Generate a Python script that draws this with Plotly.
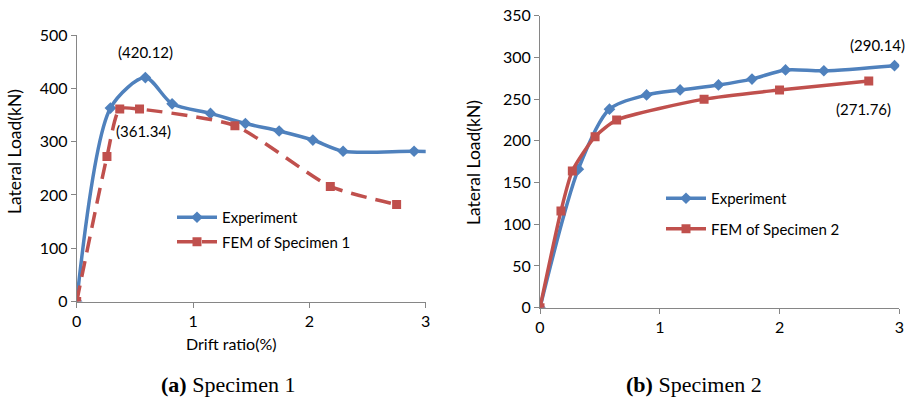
import plotly.graph_objects as go

# Specimen 1
exp1_x = [0, 0.29, 0.59, 0.82, 1.15, 1.45, 1.74, 2.03, 2.29, 2.90, 3.2]
exp1_y = [0, 363, 420.12, 371, 353, 334, 320, 303, 282, 282, 280]
fem1_x = [0, 0.26, 0.37, 0.54, 1.36, 2.18, 2.75]
fem1_y = [0, 272, 361.34, 361, 330, 216, 182]

# Specimen 2
exp2_x = [0, 0.32, 0.58, 0.89, 1.17, 1.49, 1.77, 2.05, 2.37, 2.96]
exp2_y = [0, 166, 238, 255, 261, 267, 274, 285, 284, 290.14]
fem2_x = [0, 0.175, 0.27, 0.46, 0.64, 1.37, 2.0, 2.745]
fem2_y = [0, 116, 164, 205, 225, 250, 261, 271.76]

x_ticks = [0, 1, 2, 3]
y1_ticks = [0, 100, 200, 300, 400, 500]
y2_ticks = [0, 50, 100, 150, 200, 250, 300, 350]

BLUE = "#4F81BD"
RED = "#C0504D"
FONT = "Lato"
W, H = 916, 397

fig = go.Figure()
fig.add_trace(go.Scatter(x=exp1_x, y=exp1_y, name="Experiment", mode="lines+markers",
                         line=dict(color=BLUE, width=3.5, shape="spline", smoothing=0.8),
                         marker=dict(symbol="diamond", size=9, color=BLUE),
                         xaxis="x", yaxis="y", legend="legend", legendgroup="e1"))
fig.add_trace(go.Scatter(x=fem1_x, y=fem1_y, name="FEM of Specimen 1", mode="lines+markers",
                         line=dict(color=RED, width=3.5, dash="16px,9px", shape="spline", smoothing=0.6),
                         marker=dict(symbol="square", size=9, color=RED),
                         xaxis="x", yaxis="y", legend="legend", legendgroup="f1"))
fig.add_trace(go.Scatter(x=exp2_x, y=exp2_y, name="Experiment", mode="lines+markers",
                         line=dict(color=BLUE, width=3.5, shape="spline", smoothing=0.8),
                         marker=dict(symbol="diamond", size=9, color=BLUE),
                         xaxis="x2", yaxis="y2", legend="legend2", legendgroup="e2"))
fig.add_trace(go.Scatter(x=fem2_x, y=fem2_y, name="FEM of Specimen 2", mode="lines+markers",
                         line=dict(color=RED, width=3.5, shape="spline", smoothing=0.6),
                         marker=dict(symbol="square", size=9, color=RED),
                         xaxis="x2", yaxis="y2", legend="legend2", legendgroup="f2"))

axis_common = dict(showgrid=False, zeroline=False, showline=True, linecolor="#868686",
                   linewidth=1, ticks="outside", ticklen=5, tickcolor="#868686",
                   automargin=False,
                   tickfont=dict(family=FONT, size=16, color="#000"))

x1d = [76.7 / W, 425.7 / W]
y1d = [1 - 301.6 / H, 1 - 35 / H]
x2d = [540 / W, 899.3 / W]
y2d = [1 - 307.7 / H, 1 - 15.7 / H]

fig.update_layout(
    width=W, height=H, margin=dict(l=0, r=0, t=0, b=0),
    paper_bgcolor="white", plot_bgcolor="white",
    font=dict(family=FONT, size=15, color="#000"),
    xaxis=dict(domain=x1d, range=[0, 3], tickvals=x_ticks, anchor="y", **axis_common),
    yaxis=dict(domain=y1d, range=[0, 500], tickvals=y1_ticks, anchor="x", **axis_common),
    xaxis2=dict(domain=x2d, range=[0, 3], tickvals=x_ticks, anchor="y2", **axis_common),
    yaxis2=dict(domain=y2d, range=[0, 350], tickvals=y2_ticks, anchor="x2", **axis_common),
    legend=dict(x=172 / W, y=1 - 201 / H, xanchor="left", yanchor="top",
                bgcolor="rgba(0,0,0,0)", font=dict(family=FONT, size=15), itemwidth=40,
                traceorder="grouped", tracegroupgap=2),
    legend2=dict(x=661 / W, y=1 - 182 / H, xanchor="left", yanchor="top",
                 bgcolor="rgba(0,0,0,0)", font=dict(family=FONT, size=15), itemwidth=40,
                 traceorder="grouped", tracegroupgap=8),
    showlegend=True,
)

ann = [
    dict(x=14 / W, y=1 - 152 / H, xref="paper", yref="paper", text="Lateral Load(kN)",
         xanchor="center", yanchor="middle",
         textangle=-90, showarrow=False, font=dict(family=FONT, size=17.5)),
    dict(x=473 / W, y=1 - 162 / H, xref="paper", yref="paper", text="Lateral Load(kN)",
         xanchor="center", yanchor="middle",
         textangle=-90, showarrow=False, font=dict(family=FONT, size=17.5)),
    dict(x=232 / W, y=1 - 343 / H, xref="paper", yref="paper", text="Drift ratio(%)",
         xanchor="center", yanchor="middle", showarrow=False,
         font=dict(family=FONT, size=16)),
    dict(x=0.59, y=420.12, xref="x", yref="y", text="(420.12)", showarrow=False,
         yshift=26, font=dict(family=FONT, size=15)),
    dict(x=0.37, y=361.34, xref="x", yref="y", text="(361.34)", showarrow=False,
         xanchor="left", xshift=-6, yshift=-22, font=dict(family=FONT, size=15)),
    dict(x=2.96, y=290.14, xref="x2", yref="y2", text="(290.14)", showarrow=False,
         xshift=-17, yshift=21, font=dict(family=FONT, size=15)),
    dict(x=2.745, y=271.76, xref="x2", yref="y2", text="(271.76)", showarrow=False,
         xshift=-5, yshift=-28, font=dict(family=FONT, size=15)),
    dict(x=228 / W, y=1 - 384 / H, xref="paper", yref="paper", showarrow=False,
         xanchor="center", yanchor="middle",
         text="<b>(a)</b> Specimen 1", font=dict(family="Liberation Serif", size=22)),
    dict(x=694 / W, y=1 - 384 / H, xref="paper", yref="paper", showarrow=False,
         xanchor="center", yanchor="middle",
         text="<b>(b)</b> Specimen 2", font=dict(family="Liberation Serif", size=22)),
]
fig.update_layout(annotations=ann)

fig.write_html("out.html", config={"displayModeBar": False},
               post_script="document.body.style.margin='0';document.body.style.padding='0';")
